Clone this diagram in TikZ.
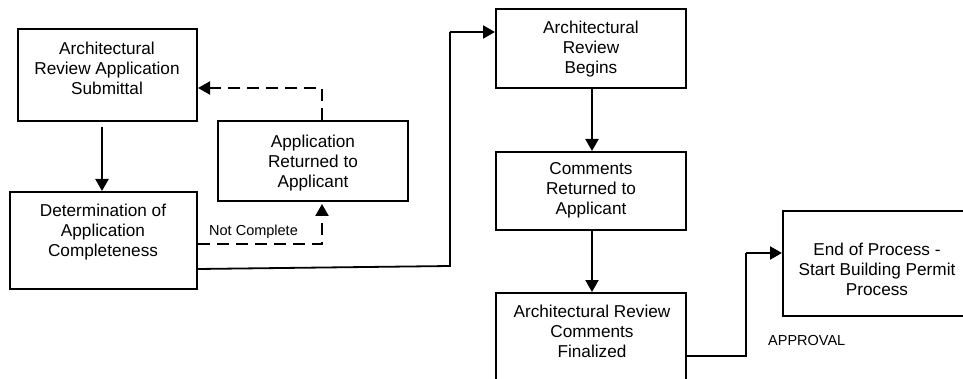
\documentclass[tikz,border=0pt]{standalone}
\usepackage{fontspec}
\setmainfont{Liberation Sans}
\usetikzlibrary{arrows.meta,calc}
\begin{document}
\begin{tikzpicture}[x=1pt,y=-1pt,
  box/.style={draw=black, line width=2pt, rectangle, inner sep=0pt},
  txt/.style={align=center, inner sep=0pt, anchor=north, font=\fontsize{17.2}{20}\selectfont},
  lbl/.style={inner sep=0pt, anchor=base west, font=\fontsize{14.5}{17}\selectfont},
  conn/.style={line width=2.2pt, -{Triangle[width=13pt,length=12pt]}},
  dconn/.style={conn, dash pattern=on 12pt off 7pt},
  plain/.style={line width=1.8pt}
]
\useasboundingbox (0,0) rectangle (963,379);
\begin{scope}
\clip (0,0) rectangle (963,379);
% boxes
\node[box, minimum width=179pt, minimum height=92pt] (b1) at (107.5,75) {};
\node[box, minimum width=187pt, minimum height=97pt] (b2) at (103.5,240.5) {};
\node[box, minimum width=190pt, minimum height=80pt] (b3) at (313,161) {};
\node[box, minimum width=190pt, minimum height=79pt] (b4) at (591,48.5) {};
\node[box, minimum width=190pt, minimum height=78pt] (b5) at (591,191) {};
\node[box, minimum width=190pt, minimum height=110pt] (b6) at (591,348) {};
\node[box, minimum width=188pt, minimum height=105pt] (b7) at (877,263.5) {};
% texts
\node[txt] (t1) at (107,41.5) {Architectural\\Review Application\\Submittal};
\node[txt] (t2) at (103,203.5) {Determination of\\Application\\Completeness};
\node[txt] (t3) at (313,134.5) {Application\\Returned to\\Applicant};
\node[txt] (t4) at (591,20.5) {Architectural\\Review\\Begins};
\node[txt] (t5) at (591,162.5) {Comments\\Returned to\\Applicant};
\node[txt] (t6) at (592,304.5) {Architectural Review\\Comments\\Finalized};
\node[txt] (t7) at (877,242.5) {End of Process -\\Start Building Permit\\Process};
\node[lbl] (l1) at (209,235.5) {Not Complete};
\node[lbl] (l2) at (768,345) {APPROVAL};
% helper coordinates
\coordinate (c1) at (322,88);
\coordinate (c2) at (322,244);
\coordinate (c3) at (450,266);
\coordinate (c4) at (450,32);
\coordinate (c5) at (746,356);
\coordinate (c6) at (746,253);
% connectors
\draw[conn, shorten <=5pt] (b1.south -| 102,0) -- (b2.north -| 102,0);
\draw[dconn] (b3.north -| c1) -- (c1) -- (b1.east |- c1);
\draw[dconn] (b2.east |- c2) -- (c2) -- ($(b3.south -| c2)+(0,2)$);
\draw[plain] ($(b2.east)+(0,28.5)$) -- (c3) -- (c4);
\draw[conn] (c4) -- (b4.west |- c4);
\draw[conn] (b4.south -| 592,0) -- (b5.north -| 592,0);
\draw[conn] (b5.south -| 592,0) -- (b6.north -| 592,0);
\draw[plain] (b6.east |- c5) -- (c5) -- (c6);
\draw[conn] (c6) -- (b7.west |- c6);
\end{scope}
\end{tikzpicture}
\end{document}
